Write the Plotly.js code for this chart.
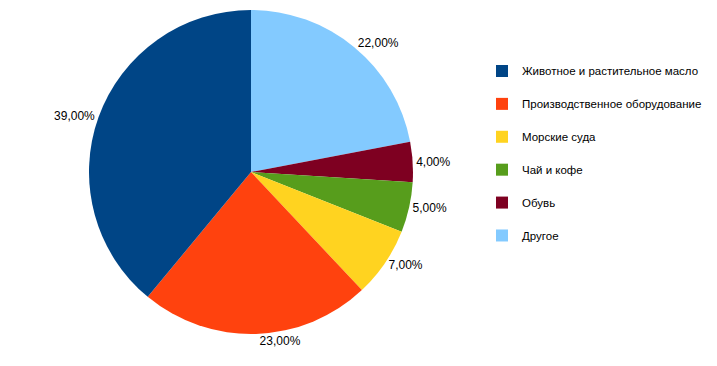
<!DOCTYPE html>
<html><head><meta charset="utf-8">
<script src="https://cdn.plot.ly/plotly-3.0.1.min.js"></script>
<style>html,body{margin:0;padding:0;background:#fff;}#chart{width:717px;height:366px;}</style>
</head><body><div id="chart"></div>
<script>
const categories = ["Животное и растительное масло", "Производственное оборудование", "Морские суда", "Чай и кофе", "Обувь", "Другое"];
const shares = [39, 23, 7, 5, 4, 22];
const sliceColors = ["#004586", "#FF420E", "#FFD320", "#579D1C", "#7E0021", "#83CAFF"];

// slices run counterclockwise from 12 o'clock: feed them clockwise in reverse order
const rev = a => a.slice().reverse();
const cx = 251, cy = 172, r = 162, W = 717, H = 366;
const trace = {
  type: "pie",
  labels: rev(categories).map(c => c + "<br> "),
  values: rev(shares),
  sort: false,
  direction: "clockwise",
  rotation: 0,
  marker: {colors: rev(sliceColors), line: {width: 0}},
  textposition: "outside",
  texttemplate: "%{value:.2f}%",
  textfont: {family: "Liberation Sans, Arial, sans-serif", size: 12, color: "#000"},
  hoverinfo: "label+percent",
  domain: {x: [(cx - r) / W, (cx + r) / W], y: [(H - cy - r) / H, (H - cy + r) / H]},
  automargin: false
};
const layout = {
  width: W, height: H,
  margin: {l: 0, r: 0, t: 0, b: 0},
  separators: ", ",
  paper_bgcolor: "#fff",
  showlegend: true,
  legend: {
    x: 482 / W, xanchor: "left", y: 1 - 57 / H, yanchor: "top",
    font: {family: "Liberation Sans, Arial, sans-serif", size: 11.5, color: "#000"},
    valign: "top", traceorder: "reversed", bgcolor: "rgba(0,0,0,0)"
  }
};
Plotly.newPlot("chart", [trace], layout, {displayModeBar: false, staticPlot: true});
</script></body></html>
